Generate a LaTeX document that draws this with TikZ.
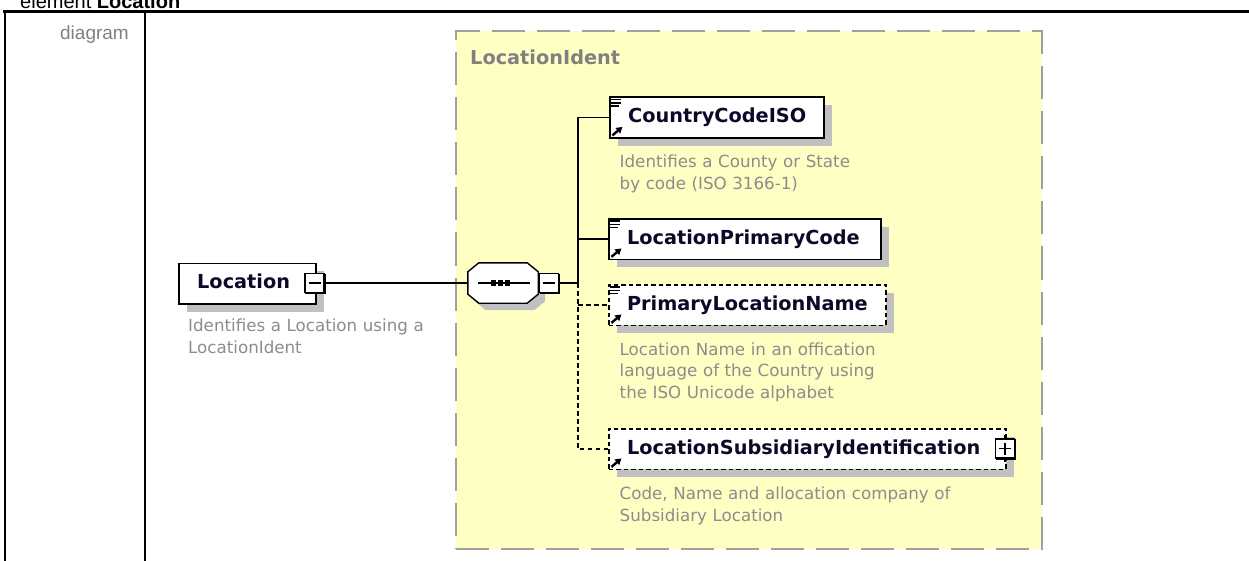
\documentclass[tikz,border=0pt]{standalone}
\usepackage{fontspec}
\setmainfont{DejaVu Sans}
\newfontfamily\arialfont{Liberation Sans}
\usetikzlibrary{shadows,calc,arrows.meta}
\definecolor{grpyellow}{RGB}{255,255,196}
\definecolor{grpgray}{RGB}{160,160,160}
\definecolor{descgray}{RGB}{140,140,140}
\definecolor{shadowgray}{RGB}{192,192,192}
\definecolor{titlegray}{RGB}{128,128,128}
\definecolor{labelink}{RGB}{10,10,40}
\newcommand{\simpleicon}[1]{%
  \draw[line width=1.6pt] ($(#1.north west)+(2.4,3.2)$) -- +(9.5,0)
    ($(#1.north west)+(2.4,6.4)$) -- +(9.5,0)
    ($(#1.north west)+(2.4,9.6)$) -- +(7.5,0);}
\newcommand{\refarrow}[1]{%
  \draw[line width=2.4pt,-{Triangle[length=6pt,width=7pt]}]
    ($(#1.south west)+(3.4,-3.2)$) -- +(10,-8.5);}
\newcommand{\octpath}[2]{% node, shift
  ($(#1.north west)+(11+#2,#2)$) -- ($(#1.north east)+(-11+#2,#2)$) --
  ($(#1.north east)+(#2,9+#2)$) -- ($(#1.south east)+(#2,-9+#2)$) --
  ($(#1.south east)+(-11+#2,#2)$) -- ($(#1.south west)+(11+#2,#2)$) --
  ($(#1.south west)+(#2,-9+#2)$) -- ($(#1.north west)+(#2,9+#2)$) -- cycle}
\begin{document}
\begin{tikzpicture}[x=1pt,y=-1pt,
  tableline/.style={line width=2.6pt},
  grpbox/.style={draw=grpgray, fill=grpyellow, line width=2pt,
    dash pattern=on 33pt off 12pt, anchor=north west, inner sep=0pt,
    minimum width=586pt, minimum height=517pt},
  elembox/.style={draw=black, line width=1.6pt, fill=white, inner sep=0pt,
    anchor=north west, minimum height=40.5pt,
    drop shadow={shadow xshift=8pt, shadow yshift=-8pt, fill=shadowgray, opacity=1}},
  optbox/.style={elembox, dash pattern=on 4.5pt off 3pt},
  elabel/.style={font=\bfseries\fontsize{19.3}{23}\selectfont, text=labelink,
    inner sep=0pt, anchor=base west},
  desc/.style={font=\fontsize{16.7}{21.5}\selectfont, text=descgray,
    inner sep=0pt, anchor=base west, align=left, text width=340pt},
  btn/.style={draw=black, fill=white, line width=1.3pt, minimum size=19pt, inner sep=0pt},
  seqanchor/.style={draw=none, minimum width=70pt, minimum height=40pt, inner sep=0pt},
  conn/.style={line width=1.5pt, draw=black},
  optconn/.style={conn, dash pattern=on 4.5pt off 3.5pt}
]
\useasboundingbox (0,0) rectangle (1249,561);
% table frame
\node[anchor=base west, inner sep=0pt, font=\arialfont\fontsize{20}{24}\selectfont] (hdr) at (20,8.5) {element \textbf{Location}};
\coordinate (tl) at (3,11.5);
\coordinate (tr) at (1249,11.5);
\draw[tableline] (tl) -- (tr);
\draw[tableline] (5,10.5) -- (5,561);
\draw[tableline] (145,10.5) -- (145,561);
\node[anchor=base east, inner sep=0pt, text=titlegray, font=\arialfont\fontsize{19}{23}\selectfont] (diag) at (129,39.5) {diagram};

% group box
\node[grpbox] (grp) at (455,30.5) {};
\node[anchor=base west, inner sep=0pt, text=titlegray, font=\bfseries\fontsize{19.3}{23}\selectfont] (grptitle) at (470,64.5) {LocationIdent};

% root element
\node[elembox, minimum width=137pt] (loc) at (178,262.5) {};
\node[elabel] (loclbl) at (197,288.8) {Location};
\node[btn] (locbtn) at (314.5,283) {};
\draw[line width=2.6pt] ($(locbtn.north east)+(0,1)$) -- (locbtn.south east) -- ($(locbtn.south west)+(1,0)$);
\draw[line width=1.4pt] ($(locbtn.center)+(-6,0)$) -- ($(locbtn.center)+(6,0)$);
\node[desc] (locdesc) at (188,331.5) {Identifies a Location using a\\LocationIdent};

% sequence compositor
\node[seqanchor] (seq) at (503,283) {};
\fill[shadowgray] \octpath{seq}{7};
\filldraw[fill=white, draw=black, line width=1.4pt] \octpath{seq}{0};
\draw[line width=1.4pt] ($(seq.center)+(-25,0)$) -- ($(seq.center)+(27,0)$);
\foreach \dx in {-9.5,-2.5,4.5}
  \fill ($(seq.center)+(\dx-2.7,-2.7)$) rectangle ($(seq.center)+(\dx+2.7,2.7)$);
\node[btn] (seqbtn) at (549,283) {};
\draw[line width=2.6pt] ($(seqbtn.north east)+(0,1)$) -- (seqbtn.south east) -- ($(seqbtn.south west)+(1,0)$);
\draw[line width=1.4pt] ($(seqbtn.center)+(-6,0)$) -- ($(seqbtn.center)+(6,0)$);

% children
\node[elembox, minimum width=214pt] (c1) at (609,96.5) {};
\node[elabel] (c1lbl) at (628,122.5) {CountryCodeISO};
\simpleicon{c1}\refarrow{c1}
\node[desc] (c1desc) at (619.5,168) {Identifies a County or State\\by code (ISO 3166-1)};

\node[elembox, minimum width=272pt] (c2) at (608,218) {};
\node[elabel] (c2lbl) at (626.8,244.3) {LocationPrimaryCode};
\simpleicon{c2}\refarrow{c2}

\node[optbox, minimum width=277pt] (c3) at (608,284) {};
\node[elabel] (c3lbl) at (626.8,310.5) {PrimaryLocationName};
\simpleicon{c3}\refarrow{c3}
\node[desc] (c3desc) at (619.5,355) {Location Name in an offication\\language of the Country using\\the ISO Unicode alphabet};

\node[optbox, minimum width=397pt] (c4) at (608,428) {};
\node[elabel] (c4lbl) at (626.8,454.3) {LocationSubsidiaryIdentification};
\refarrow{c4}
\node[btn] (c4btn) at (1005,448.5) {};
\draw[line width=2.6pt] ($(c4btn.north east)+(0,1)$) -- (c4btn.south east) -- ($(c4btn.south west)+(1,0)$);
\draw[line width=1.4pt] ($(c4btn.center)+(-6,0)$) -- ($(c4btn.center)+(6,0)$)
  ($(c4btn.center)+(0,-6)$) -- ($(c4btn.center)+(0,6)$);
\draw[line width=1.4pt] (c4btn.north) -- +(0,-3) (c4btn.south) -- +(0,3);
\node[desc] (c4desc) at (619.5,499.5) {Code, Name and allocation company of\\Subsidiary Location};

% connectors
\coordinate (bus) at (578,283);
\draw[conn] (locbtn.east) -- (seq.west);
\draw[conn] (seqbtn.east) -- (bus);
\draw[conn] (bus) |- (c1.west);
\draw[conn] (bus) |- (c2.west);
\draw[optconn] (bus) |- (c4.west);
\draw[optconn] (c3.west -| bus) -- (c3.west);
\end{tikzpicture}
\end{document}
